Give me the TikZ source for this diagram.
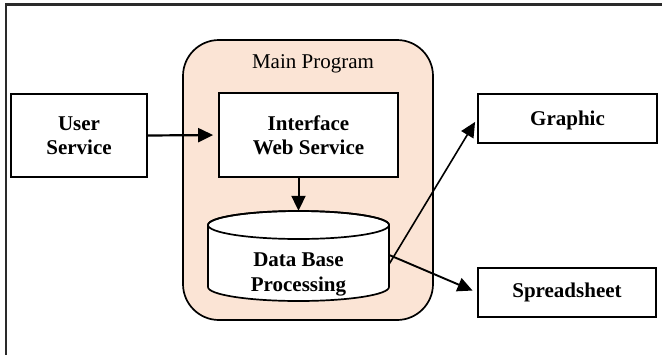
\documentclass[tikz,border=0pt]{standalone}
\usepackage{fontspec}
\setmainfont{Liberation Serif}
\usetikzlibrary{arrows.meta}
\definecolor{peach}{HTML}{FBE4D5}
\definecolor{framegray}{HTML}{2A2A2A}
\tikzset{
  box/.style={draw=black, line width=1.7pt, fill=white, inner sep=0pt,
    align=center, font=\fontsize{21}{24}\selectfont\bfseries},
  arr/.style={draw=black, -{Triangle[length=15pt,width=14pt]}},
}
\begin{document}
\begin{tikzpicture}[x=1pt,y=-1pt]
  \useasboundingbox (0,0) rectangle (662,354);
  % outer frame, running past the right and lower edges
  \draw[framegray, line width=2.2pt] (6,364) -- (6,4.5) -- (672,4.5);

  % main program container
  \node[draw=black, line width=1.7pt, fill=peach, rounded corners=36pt,
        minimum width=250pt, minimum height=280pt, inner sep=0pt] (main) at (308,180) {};
  \node[font=\fontsize{21}{24}\selectfont, anchor=base] (mainlbl) at (313,68) {Main Program};

  % boxes
  \node[box, minimum width=136pt, minimum height=83pt] (user) at (79,135.5) {User\\Service};
  \node[box, minimum width=179pt, minimum height=84pt] (iface) at (308.5,135) {Interface\\Web Service};
  \node[box, minimum width=179pt, minimum height=49pt, text height=15pt, text depth=2pt] (graph) at (567.5,118.5) {Graphic};
  \node[box, minimum width=178pt, minimum height=49pt] (sheet) at (567,292.5) {Spreadsheet};

  % database cylinder
  \node[minimum width=181pt, minimum height=90pt, inner sep=0pt] (db) at (298.5,256) {};
  \draw[line width=1.7pt, fill=white]
    (208,225) -- (208,287) arc[start angle=180, end angle=360, x radius=90.5pt, y radius=14pt]
    -- (389,225) arc[start angle=0, end angle=180, x radius=90.5pt, y radius=14pt] -- cycle;
  \draw[line width=1.7pt] (298.5,225) ellipse[x radius=90.5pt, y radius=14pt];
  \node[align=center, font=\fontsize{21}{25}\selectfont\bfseries] (dblbl) at (298.5,274) {Data Base\\Processing};

  % connectors
  \draw[arr, line width=2.2pt, shorten >=5pt] (user.east) -- (iface.west);
  \draw[arr, line width=2pt] (iface.south -| db.north) -- (db.north);
  \draw[arr, line width=1.6pt, shorten >=4pt] ([yshift=-8pt]db.east) -- (graph.west);
  \draw[arr, line width=1.9pt, shorten >=5pt] ([yshift=1pt]db.east) -- (sheet.west);
\end{tikzpicture}
\end{document}
